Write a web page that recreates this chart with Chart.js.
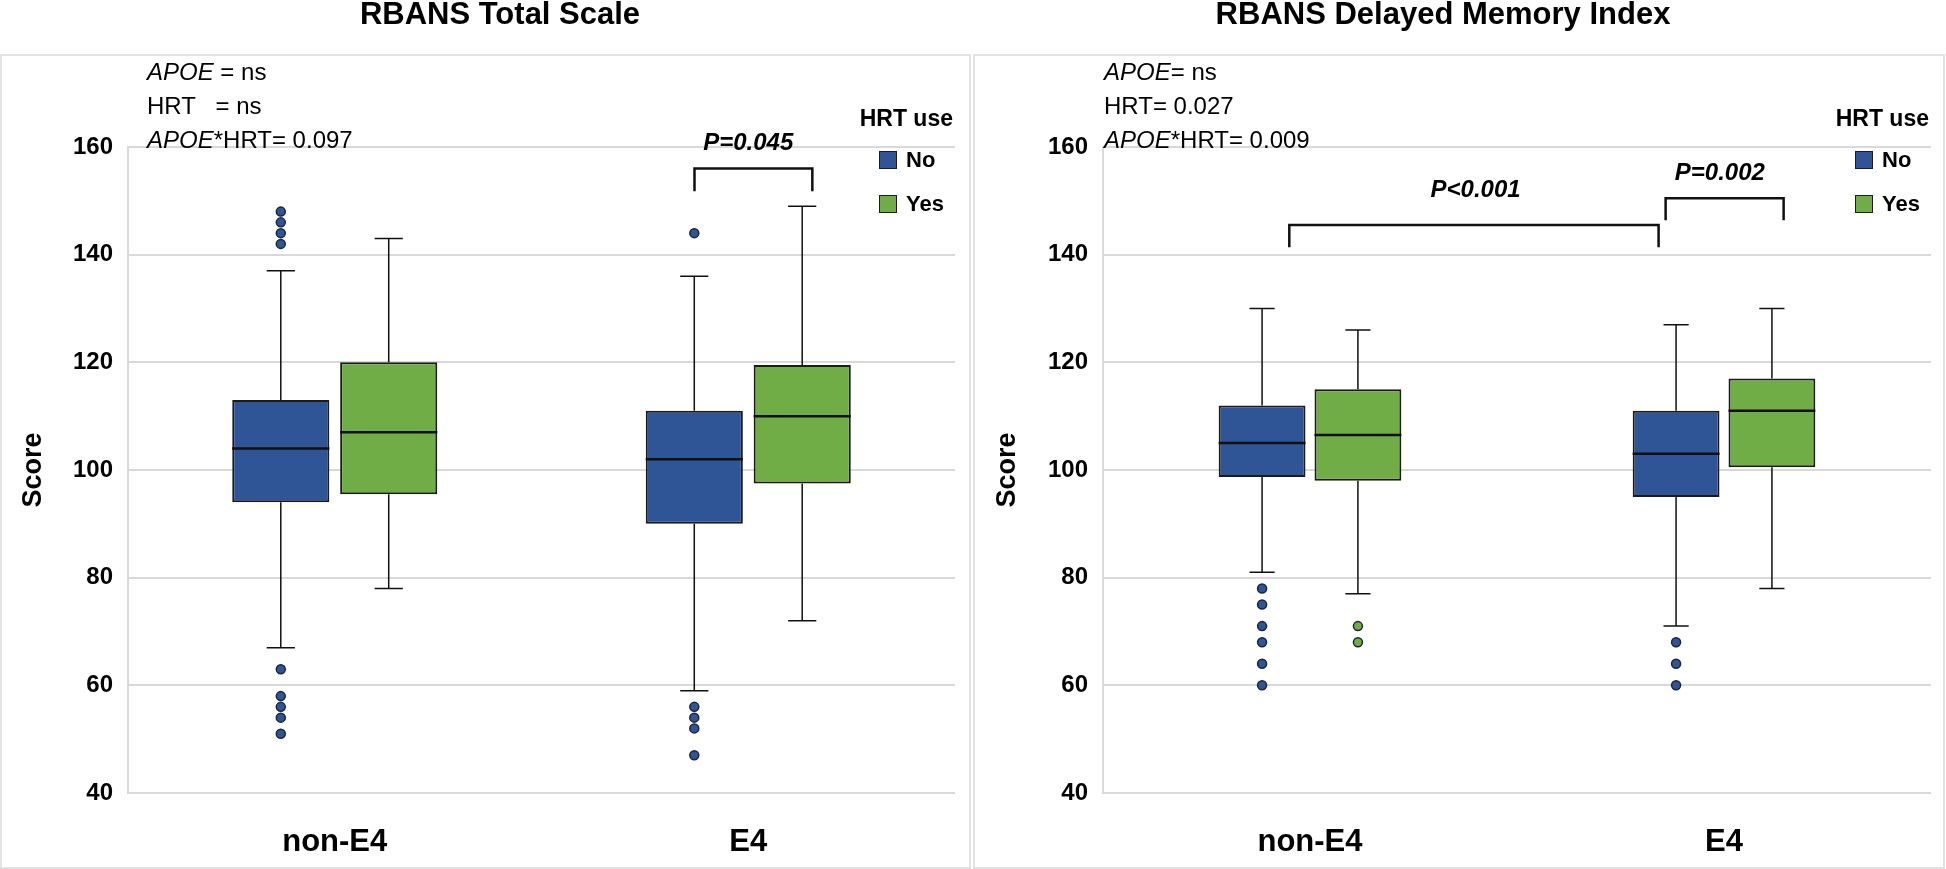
<!DOCTYPE html>
<html>
<head>
<meta charset="utf-8">
<script src="https://cdn.jsdelivr.net/npm/chart.js@4.4.0/dist/chart.umd.min.js"></script>
<style>
  body { margin: 0; width: 1946px; height: 869px; background: #fff; position: relative; overflow: hidden;
         font-family: 'Liberation Sans', Arial, sans-serif; color: #000; }
  .panel { position: absolute; top: 54px; height: 811px; border: 2px solid #e2e2e2; }
  canvas { position: absolute; top: 0; }
  .stats { position: absolute; top: 55px; font-size: 24px; line-height: 34px; white-space: pre; }
  .lg-title { position: absolute; font-weight: bold; font-size: 23px; line-height: 28px; white-space: nowrap; }
  .lg-item { position: absolute; font-weight: bold; font-size: 22px; line-height: 26px; }
  .lg-item span { position: absolute; left: 0; top: 4px; width: 16px; height: 16px; border: 1.5px solid #1b1b1b; }
  .lg-item b { position: absolute; left: 27px; top: 0; }
</style>
</head>
<body>
<div class="panel" style="left:0; width:967px;"></div>
<div class="panel" style="left:973px; width:968px;"></div>
<canvas id="total" width="1000" height="869" style="left:0"></canvas>
<canvas id="delayed" width="1006" height="869" style="left:940px"></canvas>

<script>
const groups = ['non-E4', 'E4'];
const hrtUse = ['No', 'Yes'];
const hrtColors = ['#2F5597', '#70AD47'];
const yTicks = [40, 60, 80, 100, 120, 140, 160];

// [min, q1, median, q3, max] for non-E4 and E4
const totalNo  = [[67, 94, 104, 113, 137], [59, 90, 102, 111, 136]];
const totalYes = [[78, 95.5, 107, 120, 143], [72, 97.5, 110, 119.5, 149]];
const totalNoOut  = [[148, 146, 144, 142, 63, 58, 56, 54, 51], [144, 56, 54, 52, 47]];
const totalYesOut = [[], []];

const delayNo  = [[81, 98.7, 105, 112, 130], [71, 95, 103, 111, 127]];
const delayYes = [[77, 98, 106.5, 115, 126], [78, 100.5, 111, 117, 130]];
const delayNoOut  = [[78, 75, 71, 68, 64, 60], [68, 64, 60]];
const delayYesOut = [[71, 68], []];

const totalStats = ['<i>APOE</i> = ns', 'HRT   = ns', '<i>APOE</i>*HRT= 0.097'];
const delayStats = ['<i>APOE</i>= ns', 'HRT= 0.027', '<i>APOE</i>*HRT= 0.009'];

// significance brackets, x in category units, y in score units
const totalBrackets = [
  { from: 0.87, to: 1.155, top: 156, foot: 151.8, label: 'P=0.045', lx: 1.0, ly: 160.7 }
];
const delayBrackets = [
  { from: -0.05, to: 0.842, top: 145.5, foot: 141.4, label: 'P<0.001', lx: 0.4, ly: 152 },
  { from: 0.859, to: 1.144, top: 150.5, foot: 146.4, label: 'P=0.002', lx: 0.99, ly: 155.1 }
];

Chart.defaults.font.family = "'Liberation Sans', Arial, sans-serif";
Chart.defaults.color = '#000';

const boxPlugin = {
  id: 'boxes',
  afterDatasetsDraw(chart, args, opts) {
    const ctx = chart.ctx;
    const y = chart.scales.y;
    const x = chart.scales.x;
    chart.data.datasets.forEach((ds, di) => {
      chart.getDatasetMeta(di).data.forEach((bar, i) => {
        const s = ds.stats[i];
        const cx = bar.x, w = bar.width, cap = w * 0.29;
        const py = v => y.getPixelForValue(v);
        ctx.save();
        ctx.strokeStyle = '#111';
        ctx.lineWidth = 1.5;
        ctx.beginPath();
        ctx.moveTo(cx, py(s[3])); ctx.lineTo(cx, py(s[4]));
        ctx.moveTo(cx - cap / 2, py(s[4])); ctx.lineTo(cx + cap / 2, py(s[4]));
        ctx.moveTo(cx, py(s[1])); ctx.lineTo(cx, py(s[0]));
        ctx.moveTo(cx - cap / 2, py(s[0])); ctx.lineTo(cx + cap / 2, py(s[0]));
        ctx.stroke();
        ctx.lineWidth = 2.5;
        ctx.beginPath();
        ctx.moveTo(cx - w / 2, py(s[2])); ctx.lineTo(cx + w / 2, py(s[2]));
        ctx.stroke();
        ds.outliers[i].forEach(v => {
          ctx.beginPath();
          ctx.arc(cx, py(v), 4.5, 0, Math.PI * 2);
          ctx.fillStyle = ds.backgroundColor;
          ctx.fill();
          ctx.lineWidth = 1.5;
          ctx.strokeStyle = '#1c2638';
          ctx.stroke();
        });
        ctx.restore();
      });
    });

    const c0 = x.getPixelForValue(0);
    const step = x.getPixelForValue(1) - c0;
    const px = u => c0 + u * step;
    (opts.brackets || []).forEach(b => {
      ctx.save();
      ctx.strokeStyle = '#111';
      ctx.lineWidth = 2.5;
      ctx.beginPath();
      ctx.moveTo(px(b.from), y.getPixelForValue(b.foot));
      ctx.lineTo(px(b.from), y.getPixelForValue(b.top));
      ctx.lineTo(px(b.to), y.getPixelForValue(b.top));
      ctx.lineTo(px(b.to), y.getPixelForValue(b.foot));
      ctx.stroke();
      ctx.font = "italic bold 24px 'Liberation Sans', Arial, sans-serif";
      ctx.fillStyle = '#000';
      ctx.textAlign = 'center';
      ctx.textBaseline = 'middle';
      ctx.fillText(b.label, px(b.lx), y.getPixelForValue(b.ly));
      ctx.restore();
    });
  }
};

function makeChart(id, title, no, yes, noOut, yesOut, brackets, layout) {
  const sets = [[no, noOut], [yes, yesOut]].map((pair, k) => ({
    label: hrtUse[k],
    data: pair[0].map(s => [s[1], s[3]]),
    stats: pair[0],
    outliers: pair[1],
    backgroundColor: hrtColors[k],
    borderColor: '#1b1b1b',
    borderWidth: 2,
    borderSkipped: false,
    categoryPercentage: layout.catPct,
    barPercentage: layout.barPct
  }));
  return new Chart(document.getElementById(id), {
    type: 'bar',
    data: { labels: groups, datasets: sets },
    plugins: [boxPlugin],
    options: {
      responsive: false,
      animation: false,
      layout: { padding: 0 },
      plugins: {
        legend: { display: false },
        tooltip: { enabled: false },
        title: {
          display: true,
          text: title,
          font: { size: 31, weight: 'bold', lineHeight: 1 },
          padding: { top: 0, bottom: 116 }
        },
        boxes: { brackets: brackets }
      },
      scales: {
        x: {
          grid: { display: false },
          border: { display: false },
          ticks: { font: { size: 31, weight: 'bold' }, padding: 23 },
          afterFit(s) { s.height = 76; }
        },
        y: {
          min: yTicks[0],
          max: yTicks[yTicks.length - 1],
          afterBuildTicks(s) { s.ticks = yTicks.map(v => ({ value: v })); },
          grid: { color: '#d9d9d9', lineWidth: 2, drawTicks: false },
          border: { display: true, color: '#d9d9d9', width: 2 },
          ticks: { font: { size: 24, weight: 'bold' }, padding: 15 },
          title: { display: true, text: 'Score', font: { size: 27, weight: 'bold' }, padding: { top: layout.scorePad, bottom: 0 } },
          afterFit(s) { s.width = layout.yWidth; }
        },
        y2: {
          position: 'right',
          display: true,
          grid: { display: false },
          border: { display: false },
          ticks: { display: false },
          afterFit(s) { s.width = layout.rightGap; }
        }
      }
    }
  });
}

makeChart('total', 'RBANS Total Scale', totalNo, totalYes, totalNoOut, totalYesOut, totalBrackets,
  { catPct: 0.522, barPct: 0.9, yWidth: 128, rightGap: 45, scorePad: 17 });
makeChart('delayed', 'RBANS Delayed Memory Index', delayNo, delayYes, delayNoOut, delayYesOut, delayBrackets,
  { catPct: 0.463, barPct: 0.906, yWidth: 163, rightGap: 15, scorePad: 51 });

// stats text and legends
function addStats(lines, left) {
  const d = document.createElement('div');
  d.className = 'stats';
  d.style.left = left + 'px';
  d.innerHTML = lines.join('\n');
  document.body.appendChild(d);
}
function addLegend(plotRight) {
  const t = document.createElement('div');
  t.className = 'lg-title';
  t.textContent = 'HRT use';
  t.style.right = (1946 - plotRight + 2) + 'px';
  t.style.top = '104px';
  document.body.appendChild(t);
  hrtUse.forEach((name, k) => {
    const it = document.createElement('div');
    it.className = 'lg-item';
    it.style.left = (plotRight - 76) + 'px';
    it.style.top = (147 + k * 44) + 'px';
    it.innerHTML = '<span style="background:' + hrtColors[k] + '"></span><b>' + name + '</b>';
    document.body.appendChild(it);
  });
}
addStats(totalStats, 147);
addStats(delayStats, 1104);
addLegend(955);
addLegend(1931);
</script>
</body>
</html>
